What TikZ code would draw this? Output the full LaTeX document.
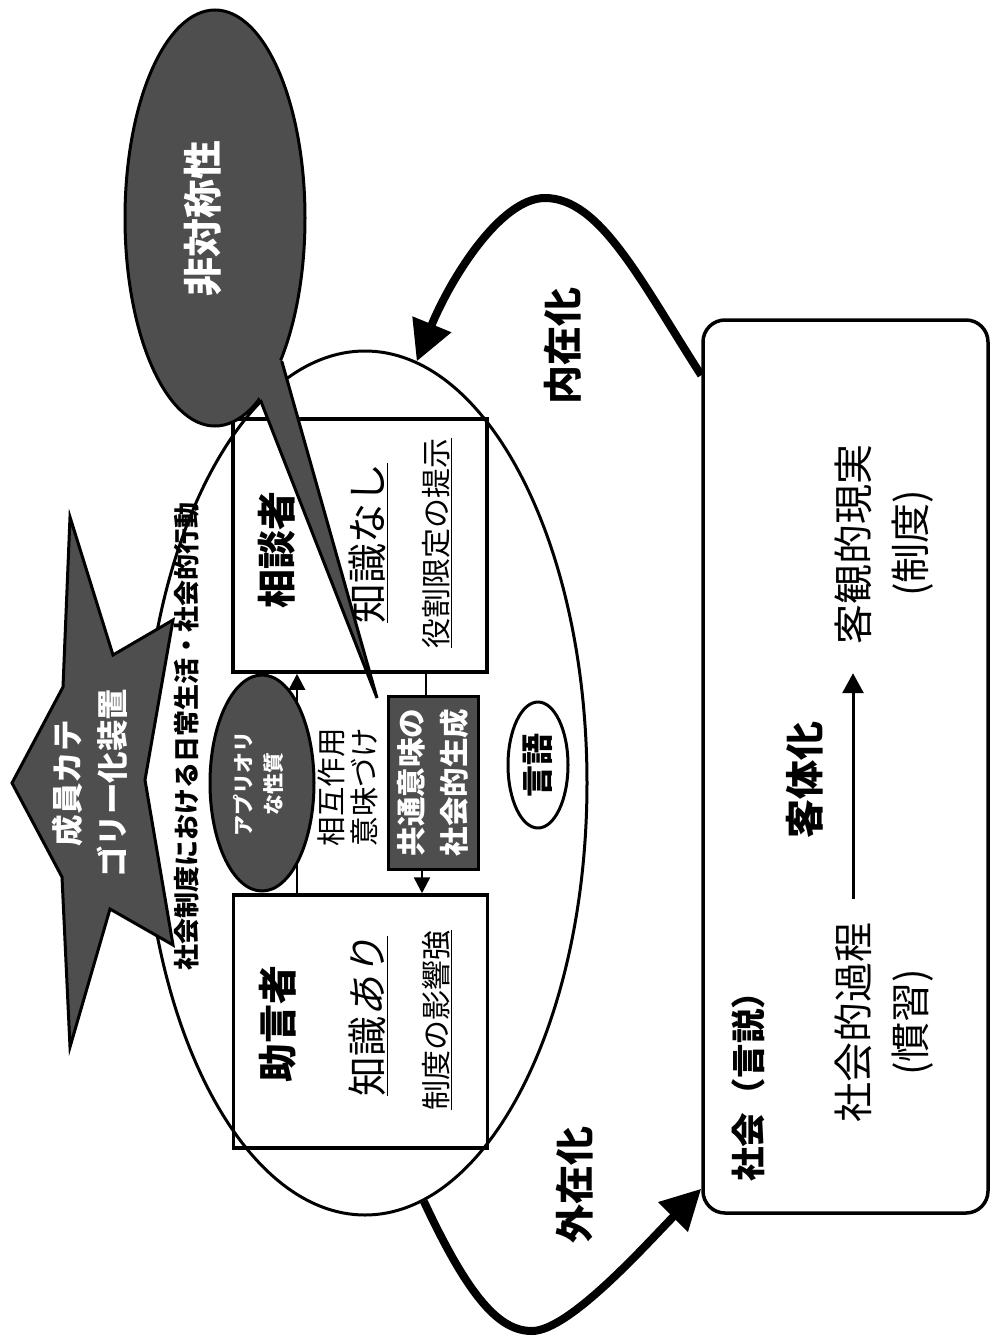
\documentclass[tikz,border=0pt]{standalone}
\usepackage{fontspec}
\setmainfont{Noto Sans CJK JP}
\newfontfamily\jpsl{Noto Sans CJK JP}[FakeSlant=0.2]
\usetikzlibrary{shapes.geometric,arrows.meta,calc}
\definecolor{darkfill}{RGB}{78,78,78}
\tikzset{
  stdbox/.style={draw, line width=3.5pt, minimum width=254pt, minimum height=253pt, inner sep=0pt},
  vtxt/.style={rotate=90, inner sep=0pt},
  darkshape/.style={fill=darkfill, draw=black, line width=3pt},
  bigarrow/.style={line width=8pt, -{Triangle[length=40pt,width=40pt]}},
  thinarrow/.style={line width=2.5pt, -{Triangle[length=16pt,width=16pt]}},
  thinline/.style={line width=2.5pt},
}
\begin{document}
\begin{tikzpicture}[x=1pt,y=-1pt]
\useasboundingbox (0,0) rectangle (991,1339);

% big ellipse
\node[draw, ellipse, line width=3pt, minimum width=444pt, minimum height=864pt, inner sep=0pt] (world) at (365,783) {};

% boxes
\node[stdbox] (consult) at (360,545.5) {};
\node[stdbox] (advisor) at (360.5,1021.5) {};

\node[vtxt, font=\bfseries\fontsize{39}{46}\selectfont] (consultT) at (277,550) {相談者};
\node[vtxt, font=\fontsize{40}{48}\selectfont] (consultK) at (368,543) {\underline{知識なし}};
\node[vtxt, font=\fontsize{30}{36}\selectfont] (consultR) at (437,543) {\underline{役割限定の提示}};

\node[vtxt, font=\bfseries\fontsize{39}{46}\selectfont] (advisorT) at (278,1024) {助言者};
\node[vtxt, font=\fontsize{40}{48}\selectfont] (advisorK) at (368,1016) {\underline{知識{\jpsl あり}}};
\node[vtxt, font=\fontsize{30}{36}\selectfont] (advisorR) at (437,1020) {\underline{制度の影響強}};

% interaction arrow (behind apriori ellipse)
\draw[thinarrow] ($(advisor.north)+(-63.5,0)$) -- ($(consult.south)+(-63,0)$);

% common meaning box
\node[darkshape, minimum width=90pt, minimum height=173pt, inner sep=0pt] (common) at (433,782.5) {};
\node[vtxt, align=center, text=white, font=\bfseries\fontsize{29.5}{43}\selectfont] (commonT) at (common) {共通意味の\\社会的生成};
\draw[thinline] ($(consult.south)+(66,0)$) -- ($(common.north)+(-7,0)$);
\draw[thinarrow] ($(common.south)+(-11,0)$) -- ($(advisor.north)+(61.5,0)$);

% apriori ellipse
\node[darkshape, ellipse, minimum width=104pt, minimum height=216pt, inner sep=0pt] (apriori) at (262,783) {};
\node[vtxt, align=center, text=white, font=\bfseries\fontsize{21}{30}\selectfont] (aprioriT) at (258,784) {アプリオリ\\な性質};

\node[vtxt, align=center, font=\fontsize{29.5}{33}\selectfont] (inter) at (348,787) {相互作用\\意味づけ};

% language ellipse
\node[draw, ellipse, fill=white, line width=3pt, minimum width=60pt, minimum height=126pt, inner sep=0pt] (lang) at (538,765) {};
\node[vtxt, font=\bfseries\fontsize{32}{38}\selectfont] (langT) at (lang) {言語};

% star
\draw[darkshape, line join=miter] (70,517) -- (113,655) -- (173,620) -- (145,780) -- (173,945) -- (110,909) -- (70,1047) -- (62,877) -- (12,783) -- (63,687) -- cycle;
\node[vtxt, align=center, text=white, font=\bfseries\fontsize{31.5}{45}\selectfont] (starT) at (90,783) {成員カテ\\ゴリー化装置};

% title
\node[vtxt, font=\bfseries\fontsize{26}{31}\selectfont] (title) at (187,736) {社会制度における日常生活・社会的行動};

% speech bubble
\node[darkshape, ellipse, minimum width=180pt, minimum height=416pt, inner sep=0pt] (bubble) at (215,218) {};
\coordinate (tailtip) at (377,698);
\fill[darkfill] (bubble.-65) -- (tailtip) -- (bubble.-76) -- (230,330) -- cycle;
\draw[line width=3pt, line join=miter] (bubble.-65) -- (tailtip) -- (bubble.-76);
\node[vtxt, text=white, font=\bfseries\fontsize{39}{46}\selectfont] (bubbleT) at (203,218) {非対称性};

% society box
\node[draw, rounded corners=22pt, line width=3.5pt, minimum width=285pt, minimum height=893pt, inner sep=0pt] (soc) at (845.5,766.5) {};
\node[vtxt, font=\bfseries\fontsize{34.5}{41}\selectfont] (socT) at (748,1078) {社会（言説）};
\node[vtxt, font=\fontsize{40}{48}\selectfont] (proc) at (853,1022) {社会的過程};
\node[vtxt, font=\fontsize{40}{48}\selectfont] (habit) at (913,1022) {(慣習)};
\node[vtxt, font=\fontsize{40}{48}\selectfont] (real) at (853,544) {客観的現実};
\node[vtxt, font=\fontsize{40}{48}\selectfont] (inst) at (913,543) {(制度)};
\node[vtxt, font=\bfseries\fontsize{39}{46}\selectfont] (objT) at (805,780) {客体化};
\draw[line width=3pt, -{Triangle[length=20pt,width=21pt]}, shorten <=23pt, shorten >=29pt] (proc.east) -- (real.west);

% internalization / externalization
\node[vtxt, font=\bfseries\fontsize{39}{46}\selectfont] (inT) at (563,346) {内在化};
\node[vtxt, font=\bfseries\fontsize{39}{46}\selectfont] (exT) at (575,1185) {外在化};

\draw[bigarrow] ($(soc.north west)+(0,57)$) .. controls (640,280) and (600,198) .. (545,198) .. controls (500,198) and (450,280) .. (world.83);
\draw[bigarrow] (world.-82.5) .. controls (470,1300) and (500,1331) .. (532,1331) .. controls (570,1331) and (650,1240) .. ($(soc.south west)+(0,-26)$);
\end{tikzpicture}
\end{document}
